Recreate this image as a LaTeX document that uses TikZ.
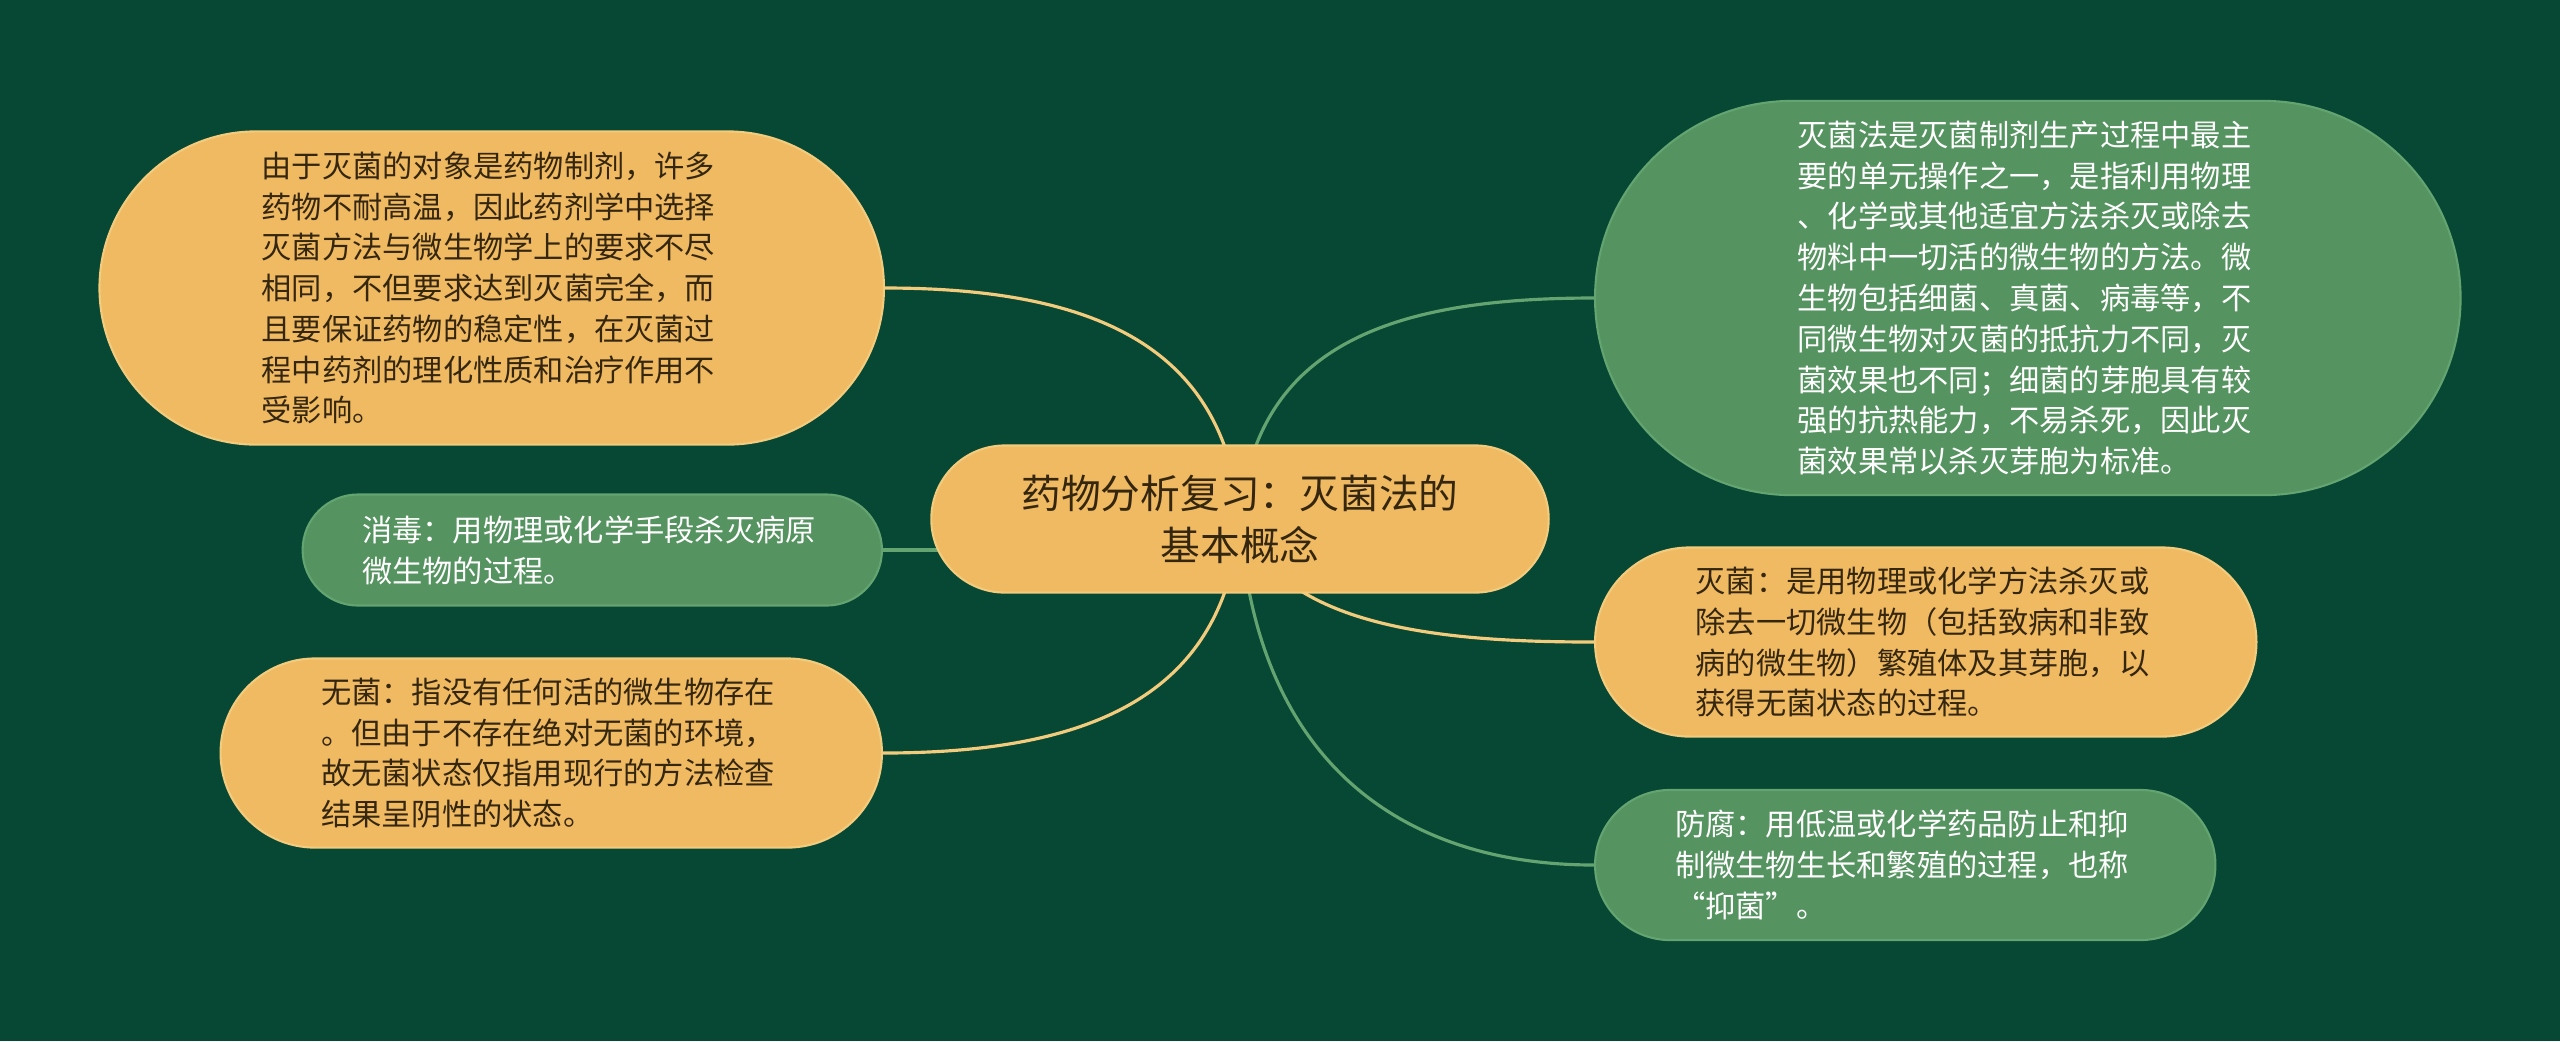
\documentclass[tikz,border=0pt]{standalone}
\usepackage{fontspec}
\setmainfont{Noto Sans CJK SC}
\usetikzlibrary{shapes.misc}

\definecolor{bg}{HTML}{074835}
\definecolor{ochre}{HTML}{F0BA62}
\definecolor{ochreline}{HTML}{F3CB7C}
\definecolor{leaf}{HTML}{559360}
\definecolor{leafline}{HTML}{63A470}
\definecolor{ink}{HTML}{35270F}

\pgfdeclarelayer{background}
\pgfsetlayers{background,main}

\tikzset{
  pill/.style={rounded rectangle, inner sep=0pt, align=left, text width=4.6cm,
    line width=0.6pt, font=\fontsize{8.6pt}{11.6pt}\selectfont},
  warm/.style={pill, fill=ochre, draw=ochreline, text=ink},
  cool/.style={pill, fill=leaf, draw=leafline, text=white},
  warmlink/.style={draw=ochreline, line width=0.9pt},
  coollink/.style={draw=leafline, line width=0.9pt},
}

\begin{document}
\begin{tikzpicture}[x=0.01cm, y=-0.01cm]
  \useasboundingbox (0,0) rectangle (2560,1041);

  \node[rounded rectangle, fill=ochre, draw=ochreline, line width=0.6pt, text=ink,
        align=center, inner sep=0pt, minimum width=6.17cm, minimum height=1.47cm,
        font=\fontsize{11.3pt}{14.8pt}\selectfont] (main) at (1240,519)
        {药物分析复习：灭菌法的\\基本概念};

  \node[warm, left, minimum width=7.84cm, minimum height=3.13cm] (reason) at (885,288)
        {由于灭菌的对象是药物制剂，许多\\药物不耐高温，因此药剂学中选择\\灭菌方法与微生物学上的要求不尽\\相同，不但要求达到灭菌完全，而\\且要保证药物的稳定性，在灭菌过\\程中药剂的理化性质和治疗作用不\\受影响。};
  \node[cool, left, minimum width=5.79cm, minimum height=1.11cm] (xiaodu) at (883,550)
        {消毒：用物理或化学手段杀灭病原\\微生物的过程。};
  \node[warm, left, minimum width=6.61cm, minimum height=1.89cm] (wujun) at (883,753)
        {无菌：指没有任何活的微生物存在\\。但由于不存在绝对无菌的环境，\\故无菌状态仅指用现行的方法检查\\结果呈阴性的状态。};

  \node[cool, right, minimum width=8.65cm, minimum height=3.94cm] (define) at (1594,298)
        {灭菌法是灭菌制剂生产过程中最主\\要的单元操作之一，是指利用物理\\、化学或其他适宜方法杀灭或除去\\物料中一切活的微生物的方法。微\\生物包括细菌、真菌、病毒等，不\\同微生物对灭菌的抵抗力不同，灭\\菌效果也不同；细菌的芽胞具有较\\强的抗热能力，不易杀死，因此灭\\菌效果常以杀灭芽胞为标准。};
  \node[warm, right, minimum width=6.61cm, minimum height=1.89cm] (miejun) at (1594,642)
        {灭菌：是用物理或化学方法杀灭或\\除去一切微生物（包括致病和非致\\病的微生物）繁殖体及其芽胞，以\\获得无菌状态的过程。};
  \node[cool, right, minimum width=6.20cm, minimum height=1.50cm] (fangfu) at (1594,865)
        {防腐：用低温或化学药品防止和抑\\制微生物生长和繁殖的过程，也称\\“抑菌”。};

  \begin{pgfonlayer}{background}
    \fill[bg] (0,0) rectangle (2560,1041);
    \draw[warmlink] (main.center) .. controls (1225,350) and (1100,288) .. (reason.east);
    \draw[coollink] (main.center) .. controls (1255,340) and (1400,298) .. (define.west);
    \draw[coollink] (xiaodu.east) -- (xiaodu.east -| main.center);
    \draw[warmlink] (main.center) .. controls (1225,690) and (1100,753) .. (wujun.east);
    \draw[warmlink] (main.center) .. controls (1280,630) and (1450,642) .. (miejun.west);
    \draw[coollink] (main.center) .. controls (1255,760) and (1400,865) .. (fangfu.west);
  \end{pgfonlayer}
\end{tikzpicture}
\end{document}
